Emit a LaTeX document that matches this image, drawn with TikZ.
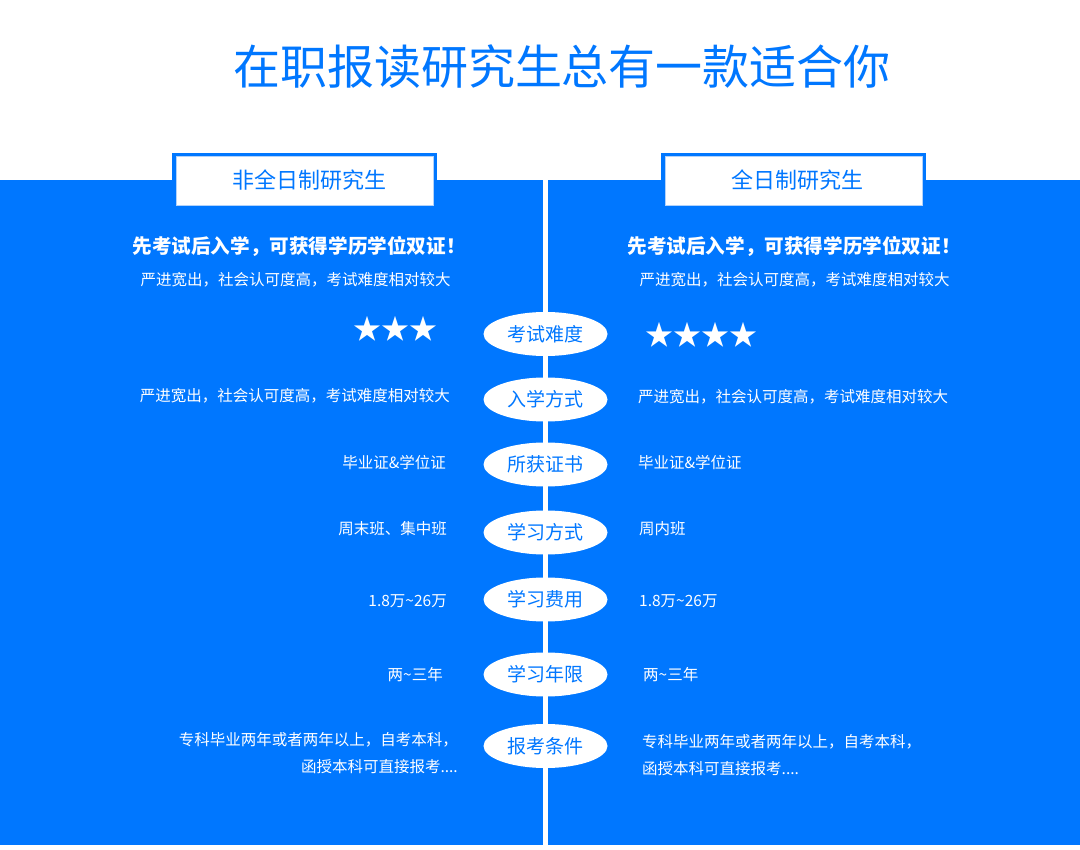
\documentclass[tikz,border=0pt]{standalone}
\usepackage{fontspec}
\setmainfont{Noto Sans CJK SC}
\usetikzlibrary{shapes.geometric}
\definecolor{zblue}{RGB}{0,119,255}
\definecolor{zedge}{RGB}{178,210,250}

\begin{document}
\begin{tikzpicture}[x=1pt,y=-1pt,
	item/.style={ellipse,fill=white,text=zblue,inner sep=0pt,
		minimum width=124pt,minimum height=44pt,font=\fontsize{19}{19}\selectfont},
	tabbox/.style={fill=white,draw=zedge,line width=1pt,inner sep=0pt,
		minimum width=257pt,minimum height=49pt},
	tabtext/.style={text=zblue,inner sep=0pt,font=\fontsize{22}{22}\selectfont},
	slogan/.style={text=white,inner sep=0pt,font=\fontsize{19.6}{19.6}\selectfont\bfseries},
	note/.style={text=white,inner sep=0pt,font=\fontsize{15.5}{15.5}\selectfont},
	lefttext/.style={note,anchor=east},
	righttext/.style={note,anchor=west},
	starline/.style={text=white,inner sep=0pt,font=\fontsize{28}{28}\selectfont}]
		\useasboundingbox (0,0) rectangle (1080,850);
		\fill[white] (0,0) rectangle (1080,850);
		\fill[zblue] (0,180) rectangle (1080,845);
		\fill[white] (543,180) rectangle (548,845);
		\node (title) at (562,67) [text=zblue,font=\fontsize{47}{47}\selectfont] {在职报读研究生总有一款适合你};
		\fill[zblue] (172,153) rectangle (437,210);
		\fill[zblue] (661,153) rectangle (926,210);
		\node (parttab) at (304.5,181.5) [tabbox] {};
		\node (fulltab) at (793.5,181.5) [tabbox] {};
		\node (parthead) at (309,180.5) [tabtext] {非全日制研究生};
		\node (fullhead) at (797.5,180.5) [tabtext] {全日制研究生};
		\node (partslogan) at (299,246) [slogan] {先考试后入学，可获得学历学位双证！};
		\node (fullslogan) at (794,246) [slogan] {先考试后入学，可获得学历学位双证！};
		\node (partsub) at (295.5,280) [note] {严进宽出，社会认可度高，考试难度相对较大};
		\node (fullsub) at (794.5,280) [note] {严进宽出，社会认可度高，考试难度相对较大};
		\node (difficulty) at (545.5,334) [item] {考试难度};
		\node (entry) at (545.5,399.5) [item] {入学方式};
		\node (diploma) at (545.5,464.5) [item] {所获证书};
		\node (mode) at (545.5,532.5) [item] {学习方式};
		\node (cost) at (545.5,599.5) [item] {学习费用};
		\node (years) at (545.5,674.5) [item] {学习年限};
		\node (require) at (545.5,746) [item] {报考条件};
		\node (partstars) at (395,329) [starline] {★★★};
		\node (fullstars) at (701,335) [starline] {★★★★};
		\node (partentry) at (450,396) [lefttext] {严进宽出，社会认可度高，考试难度相对较大};
		\node (fullentry) at (638,397) [righttext] {严进宽出，社会认可度高，考试难度相对较大};
		\node (partdiploma) at (446,463) [lefttext] {毕业证\&学位证};
		\node (fulldiploma) at (638,463) [righttext] {毕业证\&学位证};
		\node (partmode) at (447,529) [lefttext] {周末班、集中班};
		\node (fullmode) at (639,529) [righttext] {周内班};
		\node (partcost) at (447,601) [lefttext] {1.8万\textasciitilde 26万};
		\node (fullcost) at (639,601) [righttext] {1.8万\textasciitilde 26万};
		\node (partyears) at (443,675) [lefttext] {两\textasciitilde 三年};
		\node (fullyears) at (643,675) [righttext] {两\textasciitilde 三年};
		\node (partrequire) at (458,753.5) [lefttext,align=right,font=\fontsize{15.5}{27}\selectfont]
		{专科毕业两年或者两年以上，自考本科，\\函授本科可直接报考....};
		\node (fullrequire) at (642,755.5) [righttext,align=left,font=\fontsize{15.5}{27}\selectfont]
		{专科毕业两年或者两年以上，自考本科，\\函授本科可直接报考....};
	\end{tikzpicture}
\end{document}
